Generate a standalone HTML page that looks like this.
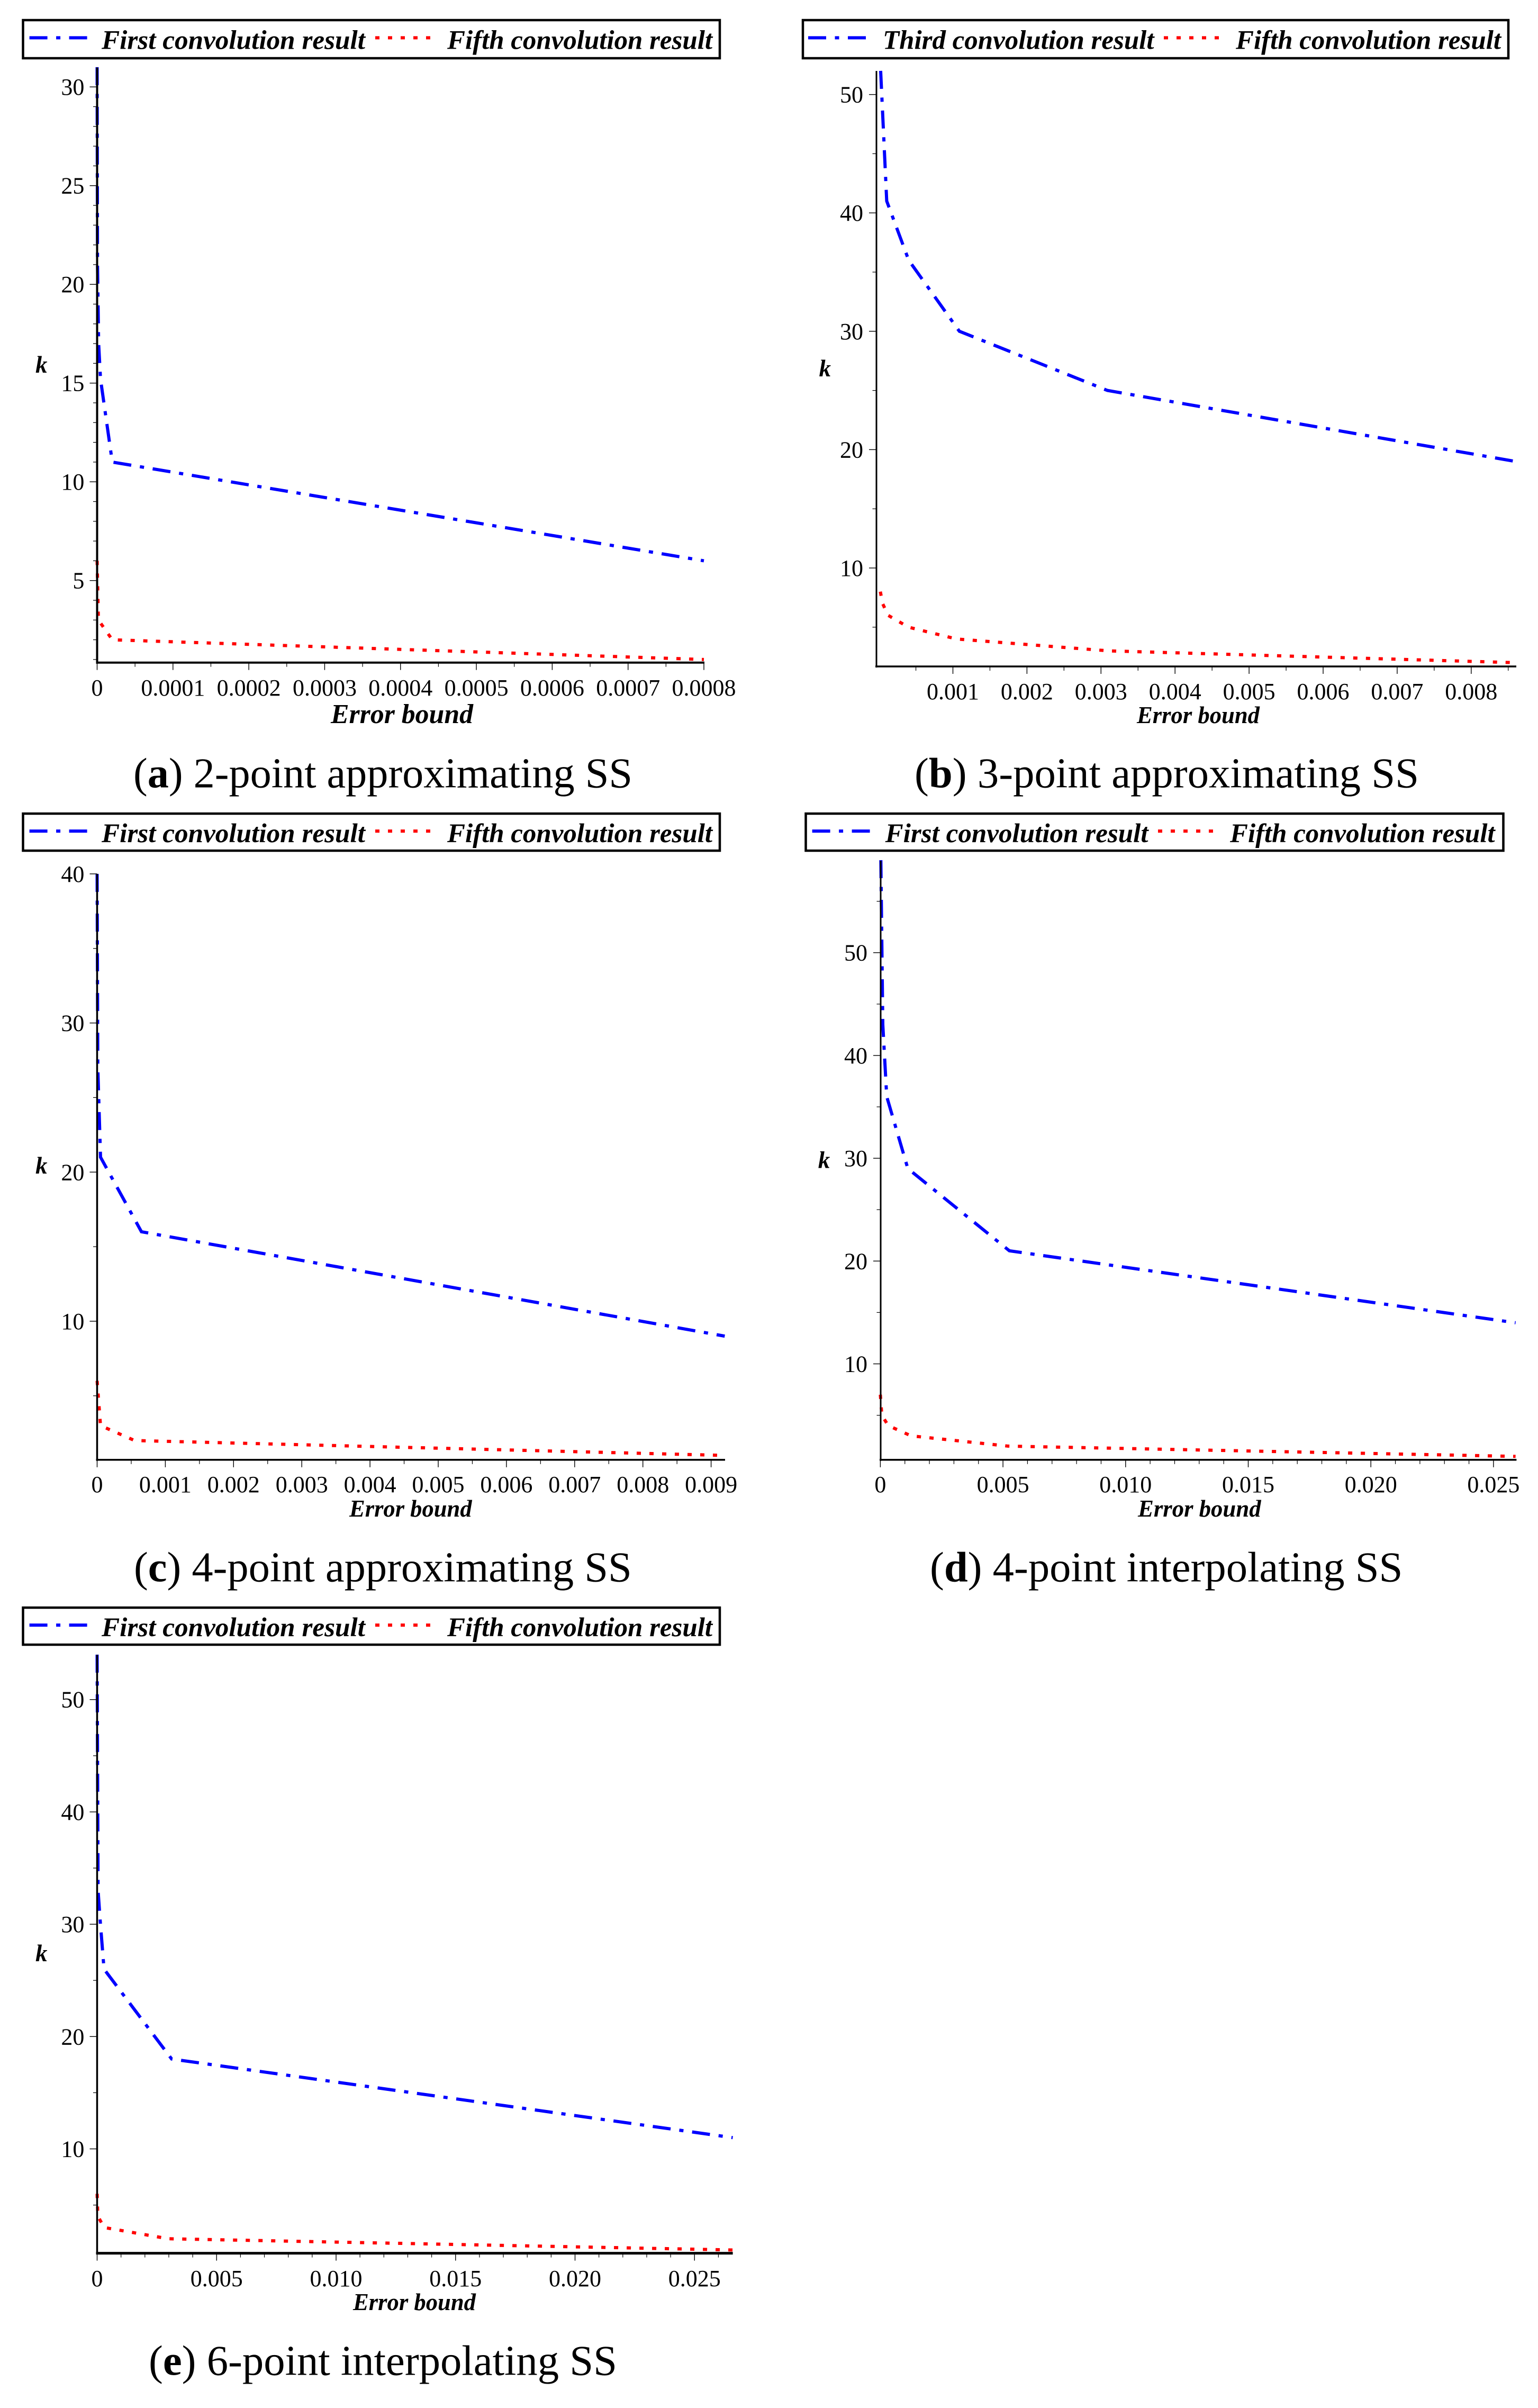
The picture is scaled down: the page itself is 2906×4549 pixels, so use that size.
<!DOCTYPE html>
<html lang="en">
<head>
<meta charset="utf-8">
<title>Error bound versus k for convolution results</title>
<style>
  html, body { margin: 0; padding: 0; background: #fff; }
  svg { display: block; }
  text { fill: #000; font-family: "Liberation Serif", serif; }
  .leg { font-size: 51px; font-weight: bold; font-style: italic; }
  .cap { font-size: 80px; }
  .cap tspan { font-weight: bold; }
  .box { fill: #fff; stroke: #000; stroke-width: 4.5; }
  .blue { fill: none; stroke: #0000ff; stroke-width: 6; stroke-dasharray: 34 16.5 8 16.5; }
  .red { fill: none; stroke: #ff0000; stroke-width: 6; stroke-dasharray: 8 16; }
</style>
</head>
<body>
<svg id="fig" width="2906" height="4549" viewBox="0 0 2906 4549" xmlns="http://www.w3.org/2000/svg">
  <rect x="0" y="0" width="2906" height="4549" fill="#fff"/>

  <g>
    <rect class="box" x="43.5" y="38" width="1316.5" height="72"/>
    <line class="blue" x1="55.6" y1="71.4" x2="168.7" y2="71.4"/>
    <text class="leg" x="192" y="92.5" textLength="498" lengthAdjust="spacingAndGlyphs">First convolution result</text>
    <line class="red" x1="709" y1="71.4" x2="815.6" y2="71.4"/>
    <text class="leg" x="845" y="92.5" textLength="501" lengthAdjust="spacingAndGlyphs">Fifth convolution result</text>
  </g>
  <g>
    <rect class="box" x="1517" y="38" width="1333" height="72"/>
    <line class="blue" x1="1527" y1="71.4" x2="1642" y2="71.4"/>
    <text class="leg" x="1668" y="92.5" textLength="512.5" lengthAdjust="spacingAndGlyphs">Third convolution result</text>
    <line class="red" x1="2199" y1="71.4" x2="2304" y2="71.4"/>
    <text class="leg" x="2335" y="92.5" textLength="501" lengthAdjust="spacingAndGlyphs">Fifth convolution result</text>
  </g>
  <g>
    <rect class="box" x="43.5" y="1537" width="1316.5" height="70"/>
    <line class="blue" x1="55.6" y1="1570" x2="168.7" y2="1570"/>
    <text class="leg" x="192" y="1591" textLength="498" lengthAdjust="spacingAndGlyphs">First convolution result</text>
    <line class="red" x1="709" y1="1570" x2="815.6" y2="1570"/>
    <text class="leg" x="845" y="1591" textLength="501" lengthAdjust="spacingAndGlyphs">Fifth convolution result</text>
  </g>
  <g>
    <rect class="box" x="1522.5" y="1537" width="1318" height="70"/>
    <line class="blue" x1="1534.6" y1="1570" x2="1647.6" y2="1570"/>
    <text class="leg" x="1672.6" y="1591" textLength="497" lengthAdjust="spacingAndGlyphs">First convolution result</text>
    <line class="red" x1="2188" y1="1570" x2="2294.5" y2="1570"/>
    <text class="leg" x="2324" y="1591" textLength="500.6" lengthAdjust="spacingAndGlyphs">Fifth convolution result</text>
  </g>
  <g>
    <rect class="box" x="43.5" y="3037" width="1316.5" height="70"/>
    <line class="blue" x1="55.6" y1="3070" x2="168.7" y2="3070"/>
    <text class="leg" x="192" y="3091" textLength="498" lengthAdjust="spacingAndGlyphs">First convolution result</text>
    <line class="red" x1="709" y1="3070" x2="815.6" y2="3070"/>
    <text class="leg" x="845" y="3091" textLength="501" lengthAdjust="spacingAndGlyphs">Fifth convolution result</text>
  </g>

  <text class="cap" x="252" y="1487.5" textLength="943" lengthAdjust="spacingAndGlyphs">(<tspan>a</tspan>) 2-point approximating SS</text>
  <text class="cap" x="1728" y="1487.5" textLength="953" lengthAdjust="spacingAndGlyphs">(<tspan>b</tspan>) 3-point approximating SS</text>
  <text class="cap" x="253" y="2987.5" textLength="940.7" lengthAdjust="spacingAndGlyphs">(<tspan>c</tspan>) 4-point approximating SS</text>
  <text class="cap" x="1757" y="2987.5" textLength="893.4" lengthAdjust="spacingAndGlyphs">(<tspan>d</tspan>) 4-point interpolating SS</text>
  <text class="cap" x="281" y="4486.7" textLength="885" lengthAdjust="spacingAndGlyphs">(<tspan>e</tspan>) 6-point interpolating SS</text>
</svg>

<script>
// ---- Panel (a) values ----
const aFirstError = [0, 0.0000005, 0.000002, 0.0000045, 0.00002, 0.0008];
const aFirstK = [31, 21, 17, 15.2, 11, 6];
const aFifthError = [0, 0.0000017, 0.00002, 0.0008];
const aFifthK = [6, 3, 2, 1];
const aXTicks = [0, 0.0001, 0.0002, 0.0003, 0.0004, 0.0005, 0.0006, 0.0007, 0.0008];
const aXLabels = ["0", "0.0001", "0.0002", "0.0003", "0.0004", "0.0005", "0.0006", "0.0007", "0.0008"];
const aXMinor = [0.00005, 0.00015, 0.00025, 0.00035, 0.00045, 0.00055, 0.00065, 0.00075];
const aYTicks = [5, 10, 15, 20, 25, 30];
const aYMinor = [1, 2, 3, 4, 6, 7, 8, 9, 11, 12, 13, 14, 16, 17, 18, 19, 21, 22, 23, 24, 26, 27, 28, 29];

// ---- Panel (b) values ----
const bThirdError = [0.000024, 0.000106, 0.000403, 0.001087, 0.003087, 0.0086];
const bThirdK = [52, 41, 36, 30, 25, 19];
const bFifthError = [0.00002, 0.00005, 0.000125, 0.0004, 0.00105, 0.0031, 0.0086];
const bFifthK = [8, 7, 6, 5, 4, 3, 2];
const bXTicks = [0.001, 0.002, 0.003, 0.004, 0.005, 0.006, 0.007, 0.008];
const bXLabels = ["0.001", "0.002", "0.003", "0.004", "0.005", "0.006", "0.007", "0.008"];
const bXMinor = [0.0005, 0.0015, 0.0025, 0.0035, 0.0045, 0.0055, 0.0065, 0.0075, 0.0085];
const bYTicks = [10, 20, 30, 40, 50];
const bYMinor = [5, 15, 25, 35, 45];

// ---- Panel (c) values ----
const cFirstError = [0, 0.00001, 0.00005, 0.00065, 0.0092];
const cFirstK = [40, 27, 21, 16, 9];
const cFifthError = [0, 0.00005, 0.00055, 0.0092];
const cFifthK = [6, 3, 2, 1];
const cXTicks = [0, 0.001, 0.002, 0.003, 0.004, 0.005, 0.006, 0.007, 0.008, 0.009];
const cXLabels = ["0", "0.001", "0.002", "0.003", "0.004", "0.005", "0.006", "0.007", "0.008", "0.009"];
const cXMinor = [0.0005, 0.0015, 0.0025, 0.0035, 0.0045, 0.0055, 0.0065, 0.0075, 0.0085];
const cYTicks = [10, 20, 30, 40];
const cYMinor = [5, 15, 25, 35];

// ---- Panel (d) values ----
const dFirstError = [0.00002, 0.0001, 0.00026, 0.00112, 0.00526, 0.0259];
const dFirstK = [59, 43, 36, 29, 21, 14];
const dFifthError = [0, 0.00006, 0.00032, 0.00125, 0.0052, 0.0259];
const dFifthK = [7, 5, 4, 3, 2, 1];
const dXTicks = [0, 0.005, 0.010, 0.015, 0.020, 0.025];
const dXLabels = ["0", "0.005", "0.010", "0.015", "0.020", "0.025"];
const dXMinor = [0.001, 0.002, 0.003, 0.004, 0.006, 0.007, 0.008, 0.009, 0.011, 0.012, 0.013, 0.014, 0.016, 0.017, 0.018, 0.019, 0.021, 0.022, 0.023, 0.024];
const dYTicks = [10, 20, 30, 40, 50];
const dYMinor = [5, 15, 25, 35, 45, 55];

// ---- Panel (e) values ----
const eFirstError = [0, 0.00004, 0.00014, 0.00029, 0.00312, 0.0266];
const eFirstK = [54, 33, 30, 26, 18, 11];
const eFifthError = [0, 0.00003, 0.0003, 0.00298, 0.0266];
const eFifthK = [6, 4, 3, 2, 1];
const eXTicks = [0, 0.005, 0.010, 0.015, 0.020, 0.025];
const eXLabels = ["0", "0.005", "0.010", "0.015", "0.020", "0.025"];
const eXMinor = [0.001, 0.002, 0.003, 0.004, 0.006, 0.007, 0.008, 0.009, 0.011, 0.012, 0.013, 0.014, 0.016, 0.017, 0.018, 0.019, 0.021, 0.022, 0.023, 0.024, 0.026];
const eYTicks = [10, 20, 30, 40, 50];
const eYMinor = [5, 15, 25, 35, 45];

const SVG_NS = "http://www.w3.org/2000/svg";
const root = document.getElementById("fig");

function make(parent, tag, attrs, text) {
  const node = document.createElementNS(SVG_NS, tag);
  for (const key in attrs) node.setAttribute(key, attrs[key]);
  if (text !== undefined) node.textContent = text;
  parent.appendChild(node);
  return node;
}

function drawSeries(group, errors, ks, xScale, yScale, cls, name) {
  const pts = errors.map((e, i) => xScale(e).toFixed(2) + "," + yScale(ks[i]).toFixed(2)).join(" ");
  const el = make(group, "polyline", { points: pts, class: cls });
  
  
}

function drawPanel(p) {
  const xScale = e => p.xZero + e * p.xPerUnit;
  const yScale = k => p.yRef - (k - p.kRef) * p.yPerUnit;
  const g = make(root, "g", {});
  
  

  drawSeries(g, p.blueE, p.blueK, xScale, yScale, "blue", p.blueName);
  drawSeries(g, p.redE, p.redK, xScale, yScale, "red", "fifth-convolution-line");

  const yAxis = make(g, "line", { x1: p.axisX, y1: p.axisTop, x2: p.axisX, y2: p.axisY + 2, stroke: "#000", "stroke-width": p.yAxisW });
  
  

  const xAxis = make(g, "line", { x1: p.axisX - 2, y1: p.axisY, x2: p.axisEnd, y2: p.axisY, stroke: "#000", "stroke-width": p.xAxisW });
  
  

  p.yTicks.forEach(k => {
    const y = yScale(k);
    const tick = make(g, "line", { x1: p.axisX - 14, y1: y, x2: p.axisX, y2: y, stroke: "#000", "stroke-width": 1.4 });
    
    
    const label = make(g, "text", { x: p.yLabelRight, y: y + 15, "text-anchor": "end", "font-size": 44 }, String(k));
    
    
  });

  p.yMinor.forEach(k => {
    const y = yScale(k);
    const tick = make(g, "line", { x1: p.axisX - 7.5, y1: y, x2: p.axisX, y2: y, stroke: "#000", "stroke-width": 1.2 });
    
    
  });

  p.xTicks.forEach((e, i) => {
    const x = xScale(e);
    const tick = make(g, "line", { x1: x, y1: p.axisY, x2: x, y2: p.axisY + 14, stroke: "#000", "stroke-width": 1.4 });
    
    
    const label = make(g, "text", { x: x, y: p.xLabelBase, "text-anchor": "middle", "font-size": 44 }, p.xLabels[i]);
    
    
  });

  p.xMinor.forEach(e => {
    const x = xScale(e);
    const tick = make(g, "line", { x1: x, y1: p.axisY, x2: x, y2: p.axisY + 8, stroke: "#000", "stroke-width": 1.2 });
    
    
  });

  const xTitle = make(g, "text", {
    x: p.xTitleX, y: p.xTitleY, "font-size": p.xTitleSize, "font-weight": "bold", "font-style": "italic",
    textLength: p.xTitleLen, lengthAdjust: "spacingAndGlyphs"
  }, "Error bound");
  
  

  const yTitle = make(g, "text", {
    x: p.kX, y: p.kY, "font-size": 45, "font-weight": "bold", "font-style": "italic"
  }, "k");
  
  
}

drawPanel({
  id: "a", blueName: "first-convolution-line",
  blueE: aFirstError, blueK: aFirstK, redE: aFifthError, redK: aFifthK,
  xTicks: aXTicks, xLabels: aXLabels, xMinor: aXMinor, yTicks: aYTicks, yMinor: aYMinor,
  xZero: 183.5, xPerUnit: 1433125, yRef: 1096.7, kRef: 5, yPerUnit: 37.3,
  axisX: 183.5, axisTop: 127.5, axisY: 1251.7, axisEnd: 1331, yAxisW: 4, xAxisW: 4,
  yLabelRight: 159.4, xLabelBase: 1314, xTitleX: 625, xTitleY: 1366, xTitleSize: 52, xTitleLen: 269, kX: 67, kY: 704
});
drawPanel({
  id: "b", blueName: "third-convolution-line",
  blueE: bThirdError, blueK: bThirdK, redE: bFifthError, redK: bFifthK,
  xTicks: bXTicks, xLabels: bXLabels, xMinor: bXMinor, yTicks: bYTicks, yMinor: bYMinor,
  xZero: 1660.6, xPerUnit: 139900, yRef: 1073, kRef: 10, yPerUnit: 22.36,
  axisX: 1656, axisTop: 134, axisY: 1259, axisEnd: 2865, yAxisW: 3, xAxisW: 3.5,
  yLabelRight: 1631, xLabelBase: 1321, xTitleX: 2148, xTitleY: 1366, xTitleSize: 45, xTitleLen: 232, kX: 1547.5, kY: 711
});
drawPanel({
  id: "c", blueName: "first-convolution-line",
  blueE: cFirstError, blueK: cFirstK, redE: cFifthError, redK: cFifthK,
  xTicks: cXTicks, xLabels: cXLabels, xMinor: cXMinor, yTicks: cYTicks, yMinor: cYMinor,
  xZero: 183.5, xPerUnit: 128900, yRef: 2636.8, kRef: 5, yPerUnit: 28.17,
  axisX: 183.5, axisTop: 1651, axisY: 2757.8, axisEnd: 1370, yAxisW: 3.5, xAxisW: 3.5,
  yLabelRight: 159.4, xLabelBase: 2819, xTitleX: 660, xTitleY: 2864.8, xTitleSize: 45, xTitleLen: 231.6, kX: 67, kY: 2217
});
drawPanel({
  id: "d", blueName: "first-convolution-line",
  blueE: dFirstError, blueK: dFirstK, redE: dFifthError, redK: dFifthK,
  xTicks: dXTicks, xLabels: dXLabels, xMinor: dXMinor, yTicks: dYTicks, yMinor: dYMinor,
  xZero: 1663.4, xPerUnit: 46340, yRef: 2576.5, kRef: 10, yPerUnit: 19.42,
  axisX: 1664, axisTop: 1626, axisY: 2757.8, axisEnd: 2865.4, yAxisW: 3, xAxisW: 3.5,
  yLabelRight: 1639, xLabelBase: 2819, xTitleX: 2150, xTitleY: 2864.8, xTitleSize: 45, xTitleLen: 232.6, kX: 1545.7, kY: 2206.6
});
drawPanel({
  id: "e", blueName: "first-convolution-line",
  blueE: eFirstError, blueK: eFirstK, redE: eFifthError, redK: eFifthK,
  xTicks: eXTicks, xLabels: eXLabels, xMinor: eXMinor, yTicks: eYTicks, yMinor: eYMinor,
  xZero: 183.5, xPerUnit: 45150, yRef: 4059.5, kRef: 10, yPerUnit: 21.22,
  axisX: 183.5, axisTop: 3126, axisY: 4256.6, axisEnd: 1384.6, yAxisW: 3.5, xAxisW: 5,
  yLabelRight: 159.4, xLabelBase: 4319, xTitleX: 667, xTitleY: 4364, xTitleSize: 45, xTitleLen: 232, kX: 67, kY: 3705
});
</script>
</body>
</html>
